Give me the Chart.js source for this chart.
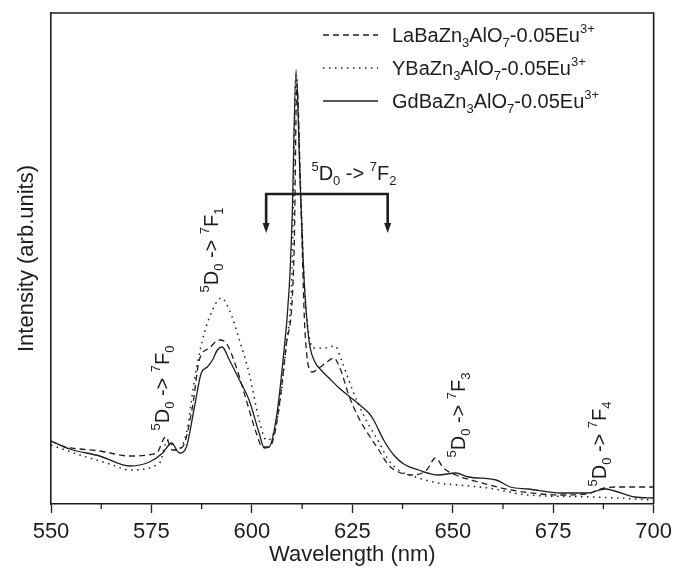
<!DOCTYPE html>
<html><head><meta charset="utf-8">
<script src="https://cdn.jsdelivr.net/npm/chart.js@4.4.1/dist/chart.umd.min.js"></script>
<style>html,body{margin:0;padding:0;background:#fff;}canvas{display:block;}</style>
</head><body>
<canvas id="c" width="678" height="573"></canvas>
<script>
// ---- data ----
const xTickValues = [550, 575, 600, 625, 650, 675, 700];
const xMinorTicks = [562.5, 587.5, 612.5, 637.5, 662.5, 687.5];

const laWavelength = [550.0,553.5,557.2,562.1,569.6,576.3,578.5,580.2,582.7,585.2,586.9,589.4,591.9,593.6,596.1,598.6,601.1,602.6,604.3,606.0,608.5,610.5,611.2,612.2,613.2,615.0,616.7,618.7,620.4,622.1,624.1,626.6,629.1,631.6,634.0,636.5,640.2,643.5,645.7,647.7,650.7,656.4,664.5,676.9,683.6,686.1,687.9,690.3,700.0];
const laIntensity  = [63,57,55,53,48,51,67,54,57,97,144,156,164,161,137,104,71,57,57,77,157,251,420,300,174,132,136,142,146,134,109,86,69,54,39,32,29,34,46,36,29,22,14,9,10,14,16,17,17];

const yWavelength = [550.0,557.2,564.6,569.6,577.0,579.0,581.2,583.7,585.7,587.7,590.2,592.4,594.4,596.9,599.3,601.8,603.6,605.0,606.8,608.5,610.0,611.0,612.0,613.0,614.2,615.5,617.9,620.7,622.1,624.1,626.6,629.1,631.6,634.0,636.5,641.5,646.4,651.4,658.8,668.8,685.4,700.0];
const yIntensity  = [59,49,40,34,41,64,54,71,124,164,194,206,194,164,131,84,64,67,97,157,234,429,334,224,169,156,156,158,146,124,99,79,62,44,34,26,21,19,16,9,7,4];

const gdWavelength = [550.0,554.7,562.1,569.6,574.5,577.8,580.0,582.0,583.7,585.7,587.4,588.9,590.2,591.4,592.6,594.4,596.9,599.3,601.8,603.1,604.3,606.0,607.5,609.3,610.0,611.0,612.0,613.0,614.2,615.7,617.2,619.2,621.7,624.1,626.6,629.1,630.3,632.8,635.3,637.8,641.5,646.4,650.7,653.9,660.8,664.3,668.8,676.9,683.6,687.9,690.3,695.3,700.0];
const gdIntensity  = [63,55,48,38,42,51,61,51,57,97,131,137,144,154,157,144,124,104,71,56,57,84,134,217,284,434,324,224,164,142,134,126,116,108,100,91,84,64,49,40,34,29,31,27,24,17,15,11,11,15,13,7,6];

const seriesNames = ['LaBaZn3AlO7-0.05Eu3+', 'YBaZn3AlO7-0.05Eu3+', 'GdBaZn3AlO7-0.05Eu3+'];

// annotation anchor points in data space (wavelength, intensity)
const bracketX = [603.55, 633.8];
const bracketY = [310, 271];
const transitionLabels = [
  {final: '2', x: 625.4, y: 331, rot: 0},
  {final: '0', x: 577.6, y: 116, rot: -90},
  {final: '1', x: 589.7, y: 254, rot: -90},
  {final: '3', x: 651.2, y: 89,  rot: -90},
  {final: '4', x: 686.4, y: 60,  rot: -90}
];

// ---- helpers ----
const FONT = '"Liberation Sans", Arial, sans-serif';
const INK = '#1e1e1e';
function toPts(xs, ys) { return xs.map((x, i) => ({x: x, y: ys[i]})); }
function formulaParts(name) {
  const m = name.match(/^(.*Zn)(3)(AlO)(7)(-0\.05Eu)(3\+)$/);
  return [
    {t: m[1], s: 20, dy: 0}, {t: m[2], s: 13, dy: 5},
    {t: m[3], s: 20, dy: 0}, {t: m[4], s: 13, dy: 5},
    {t: m[5], s: 20, dy: 0}, {t: m[6], s: 13, dy: -9}
  ];
}
function transitionParts(f) {
  return [
    {t: '5', s: 13, dy: -9}, {t: 'D', s: 20, dy: 0}, {t: '0', s: 13, dy: 5},
    {t: ' -> ', s: 20, dy: 0},
    {t: '7', s: 13, dy: -9}, {t: 'F', s: 20, dy: 0}, {t: f, s: 13, dy: 5}
  ];
}
function richWidth(ctx, parts) {
  let w = 0;
  for (const p of parts) { ctx.font = p.s + 'px ' + FONT; w += ctx.measureText(p.t).width; }
  return w;
}
function drawRich(ctx, parts, x, y, rotDeg, align) {
  ctx.save();
  ctx.translate(x, y);
  ctx.rotate(rotDeg * Math.PI / 180);
  ctx.fillStyle = INK;
  ctx.textBaseline = 'alphabetic';
  ctx.textAlign = 'left';
  const w = richWidth(ctx, parts);
  let cx = align === 'center' ? -w / 2 : 0;
  const base = 7;
  for (const p of parts) {
    ctx.font = p.s + 'px ' + FONT;
    ctx.fillText(p.t, cx, base + p.dy);
    cx += ctx.measureText(p.t).width;
  }
  ctx.restore();
}

const decorations = {
  id: 'decorations',
  afterDraw(chart) {
    const ctx = chart.ctx;
    const xs = chart.scales.x, ys = chart.scales.y;
    const a = chart.chartArea;
    ctx.save();
    // frame (top and right sides)
    ctx.strokeStyle = INK; ctx.lineWidth = 1.6;
    ctx.beginPath();
    ctx.moveTo(a.left, a.top); ctx.lineTo(a.right, a.top); ctx.lineTo(a.right, a.bottom);
    ctx.stroke();
    // minor ticks
    ctx.lineWidth = 1.3;
    for (const v of xMinorTicks) {
      const px = xs.getPixelForValue(v);
      ctx.beginPath(); ctx.moveTo(px, a.bottom); ctx.lineTo(px, a.bottom + 5); ctx.stroke();
    }
    // bracket with arrows for 5D0 -> 7F2
    const bx0 = xs.getPixelForValue(bracketX[0]), bx1 = xs.getPixelForValue(bracketX[1]);
    const by = ys.getPixelForValue(bracketY[0]), tip = ys.getPixelForValue(bracketY[1]);
    ctx.lineWidth = 2.6;
    ctx.beginPath();
    ctx.moveTo(bx0, tip - 8); ctx.lineTo(bx0, by); ctx.lineTo(bx1, by); ctx.lineTo(bx1, tip - 8);
    ctx.stroke();
    ctx.fillStyle = INK;
    for (const bx of [bx0, bx1]) {
      ctx.beginPath();
      ctx.moveTo(bx - 3.5, tip - 10); ctx.lineTo(bx + 3.5, tip - 10); ctx.lineTo(bx, tip);
      ctx.closePath(); ctx.fill();
    }
    // transition labels
    for (const L of transitionLabels) {
      drawRich(ctx, transitionParts(L.final), xs.getPixelForValue(L.x), ys.getPixelForValue(L.y), L.rot, 'center');
    }
    // legend
    chart.data.datasets.forEach((ds, i) => {
      const yRow = 35 + i * 33;
      ctx.save();
      ctx.strokeStyle = ds.borderColor;
      ctx.lineWidth = ds.borderWidth;
      ctx.setLineDash(ds.borderDash || []);
      ctx.beginPath(); ctx.moveTo(323, yRow); ctx.lineTo(378, yRow); ctx.stroke();
      ctx.restore();
      drawRich(ctx, formulaParts(seriesNames[i]), 392, yRow, 0, 'left');
    });
    ctx.restore();
  }
};

new Chart(document.getElementById('c'), {
  type: 'line',
  data: {
    datasets: [
      {label: seriesNames[0], data: toPts(laWavelength, laIntensity), borderColor: INK, borderWidth: 1.3, borderDash: [6, 4], pointRadius: 0, cubicInterpolationMode: 'monotone', fill: false},
      {label: seriesNames[1], data: toPts(yWavelength, yIntensity), borderColor: INK, borderWidth: 1.5, borderDash: [1.5, 4.5], pointRadius: 0, cubicInterpolationMode: 'monotone', fill: false},
      {label: seriesNames[2], data: toPts(gdWavelength, gdIntensity), borderColor: INK, borderWidth: 1.3, pointRadius: 0, cubicInterpolationMode: 'monotone', fill: false}
    ]
  },
  options: {
    responsive: false,
    animation: false,
    devicePixelRatio: 1,
    layout: {padding: {top: 13, right: 22, left: 0, bottom: 0}},
    plugins: {legend: {display: false}, tooltip: {enabled: false}},
    scales: {
      x: {
        type: 'linear', min: 550, max: 700,
        afterBuildTicks(s) { s.ticks = xTickValues.map(v => ({value: v})); },
        afterFit(s) { s.height = 69; },
        ticks: {font: {size: 22, family: FONT}, color: INK, padding: 6, maxRotation: 0},
        grid: {drawOnChartArea: false, drawTicks: true, tickLength: 9, tickColor: INK, tickWidth: 1.3},
        border: {display: true, color: INK, width: 1.6},
        title: {display: true, text: 'Wavelength (nm)', font: {size: 22, family: FONT}, color: INK, padding: {top: 0, bottom: 5}}
      },
      y: {
        min: 0, max: 491,
        afterFit(s) { s.width = 51; },
        ticks: {display: false},
        grid: {display: false},
        border: {display: true, color: INK, width: 1.6},
        title: {display: true, text: 'Intensity (arb.units)', font: {size: 22, family: FONT}, color: INK, padding: {top: 14, bottom: 0}}
      }
    }
  },
  plugins: [decorations]
});
</script>
</body></html>
